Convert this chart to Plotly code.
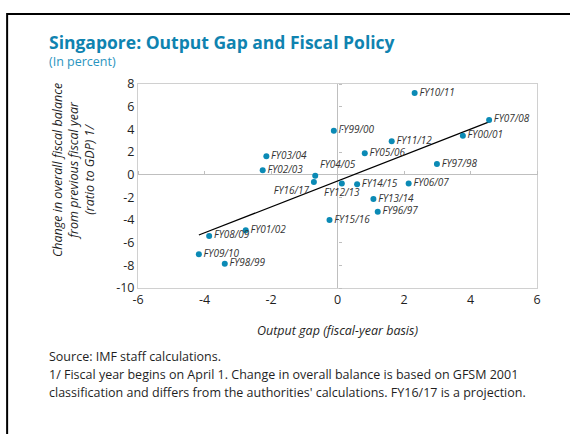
import numpy as np
import plotly.graph_objects as go

# ---- data ----
labels = ["FY96/97", "FY97/98", "FY98/99", "FY99/00", "FY00/01", "FY01/02", "FY02/03",
          "FY03/04", "FY04/05", "FY05/06", "FY06/07", "FY07/08", "FY08/09", "FY09/10",
          "FY10/11", "FY11/12", "FY12/13", "FY13/14", "FY14/15", "FY15/16", "FY16/17"]
output_gap = [1.21, 2.99, -3.39, -0.11, 3.77, -2.76, -2.25,
              -2.14, -0.67, 0.82, 2.14, 4.56, -3.86, -4.17,
              2.32, 1.63, 0.13, 1.08, 0.59, -0.24, -0.71]
fiscal_change = [-3.27, 0.94, -7.85, 3.88, 3.44, -4.91, 0.39,
                 1.62, -0.09, 1.89, -0.79, 4.83, -5.41, -7.03,
                 7.20, 2.95, -0.79, -2.15, -0.85, -4.00, -0.64]
label_pos = ["middle right", "middle right", "middle right", "middle right", "middle right",
             "middle right", "middle right", "middle right", "top right", "middle right",
             "middle right", "middle right", "middle right", "middle right", "middle right",
             "middle right", "bottom center", "middle right", "middle right", "middle right",
             "bottom left"]
x_ticks = [-6, -4, -2, 0, 2, 4, 6]
x_tick_labels = ["-6", "-4", "-2", "0", "2", "4", "6"]
y_ticks = [-10, -8, -6, -4, -2, 0, 2, 4, 6, 8]
y_tick_labels = ["-10", "-8", "-6", "-4", "-2", "0", "2", "4", "6", "8"]

title = "Singapore: Output Gap and Fiscal Policy"
subtitle = "(In percent)"
x_title = "Output gap (fiscal-year basis)"
y_title = "Change in overall fiscal balance<br>from previous fiscal year<br>(ratio to GDP) 1/"
source_note = "Source: IMF staff calculations."
foot1 = "1/ Fiscal year begins on April 1. Change in overall balance is based on GFSM 2001"
foot2 = "classification and differs from the authorities' calculations. FY16/17 is a projection."

FONT = "Open Sans"
BLUE = "#0b8ab5"
TXT = "#1f1f1f"

# linear trend fitted from the data
xa = np.array(output_gap)
ya = np.array(fiscal_change)
slope, intercept = np.polyfit(xa, ya, 1)
tx = np.array([xa.min(), xa.max()])
ty = slope * tx + intercept

fig = go.Figure()
fig.add_trace(go.Scatter(x=tx, y=ty, mode="lines",
                         line=dict(color="black", width=1.2),
                         hoverinfo="skip", showlegend=False))
fig.add_trace(go.Scatter(x=output_gap, y=fiscal_change, mode="markers+text",
                         text=labels, textposition=label_pos,
                         textfont=dict(family=FONT, size=10, color="#333333", style="italic"),
                         marker=dict(color=BLUE, size=6),
                         showlegend=False))
# dummy trace for the tick axes along the zero lines
fig.add_trace(go.Scatter(x=[None], y=[None], xaxis="x2", yaxis="y2",
                         showlegend=False, hoverinfo="skip"))

fig.update_layout(
    width=570, height=434,
    margin=dict(l=138, r=33, t=84, b=146),
    paper_bgcolor="white", plot_bgcolor="white",
    font=dict(family=FONT, color=TXT, size=12),
    xaxis=dict(range=[-6, 6], tickvals=x_ticks, ticktext=x_tick_labels, showgrid=False,
               zeroline=True, zerolinecolor="#bfbfbf", zerolinewidth=1,
               showline=True, mirror=True, linecolor="#d0d0d0", linewidth=1,
               ticks="", tickfont=dict(size=12.5, color=TXT)),
    yaxis=dict(range=[-10, 8], tickvals=y_ticks, ticktext=y_tick_labels, showgrid=False,
               zeroline=True, zerolinecolor="#bfbfbf", zerolinewidth=1,
               showline=True, mirror=True, linecolor="#d0d0d0", linewidth=1,
               ticks="", tickfont=dict(size=12.5, color=TXT)),
    xaxis2=dict(overlaying="x", anchor="free", position=10 / 18, side="top",
                range=[-6, 6], tickvals=x_ticks, ticks="outside", ticklen=4,
                tickcolor="#bfbfbf", showticklabels=False, showgrid=False,
                zeroline=False, showline=False),
    yaxis2=dict(overlaying="y", anchor="free", position=0.5, side="right",
                range=[-10, 8], tickvals=y_ticks, ticks="outside", ticklen=3,
                tickcolor="#bfbfbf", showticklabels=False, showgrid=False,
                zeroline=False, showline=False),
)

ann = [
    dict(text="<b>" + title + "</b>", x=-0.228, y=1.206, xanchor="left", yanchor="middle",
         font=dict(size=17.5, color="#0f83b0")),
    dict(text=subtitle, x=-0.228, y=1.108, xanchor="left", yanchor="middle",
         font=dict(size=12.5, color="#2a95c0")),
    dict(text=y_title, x=-0.162, y=0.58, xanchor="center", yanchor="middle",
         textangle=-90, font=dict(size=12.5, color=TXT, style="italic")),
    dict(text=x_title, x=0.5, y=-0.206, xanchor="center", yanchor="middle",
         font=dict(size=12.5, color=TXT, style="italic")),
    dict(text=source_note, x=-0.228, y=-0.338, xanchor="left", yanchor="middle",
         font=dict(size=12.5, color=TXT)),
    dict(text=foot1, x=-0.228, y=-0.426, xanchor="left", yanchor="middle",
         font=dict(size=12.5, color=TXT)),
    dict(text=foot2, x=-0.228, y=-0.510, xanchor="left", yanchor="middle",
         font=dict(size=12.5, color=TXT)),
]
for a in ann:
    a.update(xref="paper", yref="paper", showarrow=False)
fig.update_layout(annotations=ann)

# outer frame (left and top edges visible, others run off the canvas)
fig.add_shape(type="rect", xref="paper", yref="paper",
              x0=-0.328, y0=-0.8, x1=1.3, y1=1.343,
              line=dict(color="black", width=2), layer="below")

fig.write_html("out.html", config={"displayModeBar": False},
               post_script="document.body.style.margin='0';document.body.style.padding='0';")
